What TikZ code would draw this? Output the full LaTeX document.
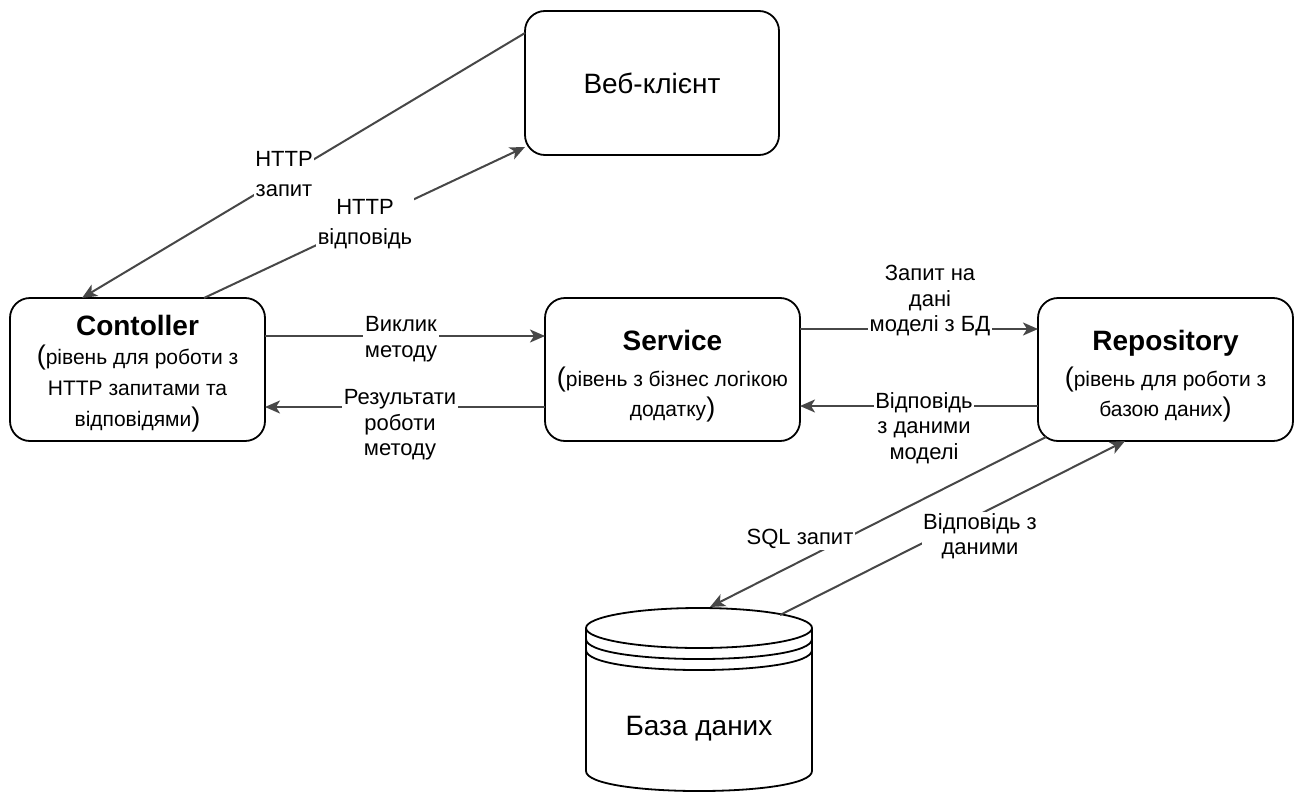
\documentclass[tikz,border=0pt]{standalone}
\usepackage{fontspec}
\setmainfont{Liberation Sans}
\usetikzlibrary{arrows.meta}
\newcommand{\bigparen}[1]{{\fontsize{27}{29}\selectfont #1}}
\newcommand{\toppad}[1]{\rule{0pt}{#1}}
\begin{document}
\begin{tikzpicture}[x=1pt,y=-1pt,
  box/.style={draw=black, line width=1.8pt, rounded corners=20pt,
    minimum width=255pt, minimum height=143pt, align=center,
    inner sep=0pt, outer sep=0pt, font=\fontsize{21}{30}\selectfont},
  flow/.style={draw=black!72, line width=2pt,
    -{Stealth[length=15pt,width=13pt,inset=4pt]}},
  lbl/.style={fill=white, inner sep=1.5pt, align=center,
    font=\fontsize{22}{25.5}\selectfont},
  lblwide/.style={lbl, font=\fontsize{22}{30}\selectfont},
  dbline/.style={draw=black, line width=1.8pt}
]
\fill[white] (0,0) rectangle (1300,792);
\useasboundingbox (0,0) rectangle (1300,792);

% layer boxes
\node[box, minimum width=254pt, minimum height=144pt, font=\fontsize{28}{34}\selectfont]
  (web) at (652,83) {Веб-клієнт};
\node[box, font=\fontsize{21}{31}\selectfont] (ctrl) at (137.5,369.5)
  {\toppad{28pt}{\fontsize{28}{34}\selectfont\bfseries Contoller}\\[-2pt]
   \bigparen{(}рівень для роботи з\\HTTP запитами та\\відповідями\bigparen{)}};
\node[box] (svc) at (672.5,369.5)
  {\toppad{34pt}{\fontsize{28}{34}\selectfont\bfseries Service}\\[6pt]
   \bigparen{(}рівень з бізнес логікою\\додатку\bigparen{)}};
\node[box] (repo) at (1165.5,369.5)
  {\toppad{34pt}{\fontsize{28}{34}\selectfont\bfseries Repository}\\[6pt]
   \bigparen{(}рівень для роботи з\\базою даних\bigparen{)}};

% database cylinder
\coordinate (dbin) at (710,607);
\coordinate (dbout) at (780,615);
\filldraw[dbline, fill=white] (586,628) -- (586,771)
  .. controls (586,797.7) and (812,797.7) .. (812,771) -- (812,628);
\filldraw[dbline, fill=white] (699,628) ellipse [x radius=113pt, y radius=20pt];
\draw[dbline] (586,639) .. controls (586,665.7) and (812,665.7) .. (812,639);
\draw[dbline] (586,650) .. controls (586,676.7) and (812,676.7) .. (812,650);
\node[font=\fontsize{28}{34}\selectfont] (db) at (699,729) {База даних};

% connectors
\draw[flow] ([yshift=-22pt]web.north west) -- ([xshift=72pt]ctrl.north west);
\draw[flow] ([xshift=194pt]ctrl.north west) -- ([yshift=8pt]web.south west);
\draw[flow] ([yshift=-38pt]ctrl.north east) -- ([yshift=-38pt]svc.north west);
\draw[flow] ([yshift=34pt]svc.south west) -- ([yshift=34pt]ctrl.south east);
\draw[flow] ([yshift=-31pt]svc.north east) -- ([yshift=-31pt]repo.north west);
\draw[flow] ([yshift=35pt]repo.south west) -- ([yshift=35pt]svc.south east);
\draw[flow] ([xshift=8pt,yshift=4pt]repo.south west) -- (dbin);
\draw[flow] (dbout) -- ([xshift=87pt]repo.south west);

% connector labels
\node[lblwide] (l1) at (284,174) {HTTP\\запит};
\node[lblwide] (l2) at (365,224) {HTTP\\відповідь};
\node[lbl] (l3) at (401,339) {Виклик\\методу};
\node[lbl] (l4) at (400,425) {Результати\\роботи\\методу};
\node[lbl] (l5) at (930,301) {Запит на\\дані\\моделі з БД};
\node[lbl] (l6) at (924,428) {Відповідь\\з даними\\моделі};
\node[lbl] (l7) at (800,539) {SQL запит};
\node[lbl] (l8) at (980,536) {Відповідь з\\даними};
\end{tikzpicture}
\end{document}
